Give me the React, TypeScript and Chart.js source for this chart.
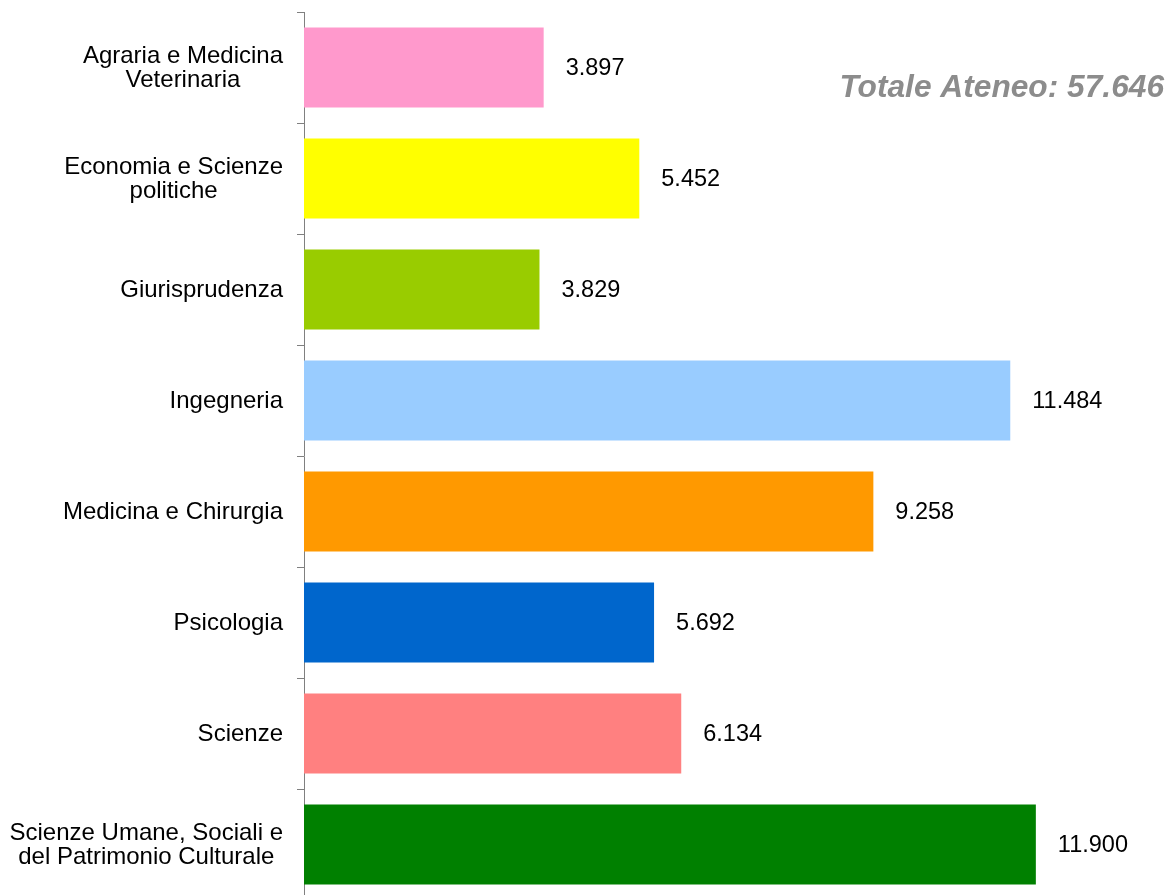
import React, { useEffect, useRef } from "react";
import { Chart, registerables } from "chart.js";

Chart.register(...registerables);

const categories: string[][] = [
  ["Agraria e Medicina", "Veterinaria"],
  ["Economia e Scienze", "politiche"],
  ["Giurisprudenza"],
  ["Ingegneria"],
  ["Medicina e Chirurgia"],
  ["Psicologia"],
  ["Scienze"],
  ["Scienze Umane, Sociali e", "del Patrimonio Culturale"],
];

const values: number[] = [3.897, 5.452, 3.829, 11.484, 9.258, 5.692, 6.134, 11.9];

const valueLabels: string[] = ["3.897", "5.452", "3.829", "11.484", "9.258", "5.692", "6.134", "11.900"];

const barColors: string[] = [
  "#FF99CC",
  "#FFFF00",
  "#99CC00",
  "#99CCFF",
  "#FF9900",
  "#0066CC",
  "#FF8080",
  "#008000",
];

const totalLabel = "Totale Ateneo: 57.646";

const FONT = "'Liberation Sans', Arial, Helvetica, sans-serif";

const valueLabelPlugin = {
  id: "valueLabels",
  afterDatasetsDraw(chart: any) {
    const ctx = chart.ctx;
    const meta = chart.getDatasetMeta(0);
    ctx.save();
    ctx.font = `23.5px ${FONT}`;
    ctx.fillStyle = "#000000";
    ctx.textAlign = "left";
    ctx.textBaseline = "middle";
    meta.data.forEach((bar: any, i: number) => {
      ctx.fillText(valueLabels[i], bar.x + 22, bar.y + 1);
    });
    ctx.restore();
  },
};

// Category labels: right edge aligned to the axis, lines centred within each block
const categoryLabelPlugin = {
  id: "categoryLabels",
  afterDraw(chart: any) {
    const ctx = chart.ctx;
    const yScale = chart.scales.y;
    const rightEdge = yScale.right - 7 - 14;
    const lineGap = 24.6;
    ctx.save();
    ctx.font = `24px ${FONT}`;
    ctx.fillStyle = "#000000";
    ctx.textAlign = "center";
    ctx.textBaseline = "middle";
    categories.forEach((lines, i) => {
      const cy = yScale.getPixelForValue(i);
      const maxW = Math.max(...lines.map((l) => ctx.measureText(l).width));
      const cx = rightEdge - maxW / 2;
      const startY = cy - ((lines.length - 1) * lineGap) / 2 + 1;
      lines.forEach((l, j) => {
        ctx.fillText(l, cx, startY + j * lineGap);
      });
    });
    ctx.restore();
  },
};

const totalPlugin = {
  id: "totalText",
  afterDraw(chart: any) {
    const ctx = chart.ctx;
    ctx.save();
    ctx.font = `italic bold 31.7px ${FONT}`;
    ctx.fillStyle = "#8C8C8C";
    ctx.textAlign = "right";
    ctx.textBaseline = "alphabetic";
    ctx.fillText(totalLabel, 1164, 97);
    ctx.restore();
  },
};

export default function App() {
  const canvasRef = useRef<HTMLCanvasElement | null>(null);

  useEffect(() => {
    document.body.style.margin = "0";
    document.body.style.overflow = "hidden";
    const canvas = canvasRef.current;
    if (!canvas) return;
    const chart = new Chart(canvas, {
      type: "bar",
      data: {
        labels: categories,
        datasets: [
          {
            data: values,
            backgroundColor: barColors,
            borderWidth: 0,
            barPercentage: 0.72,
            categoryPercentage: 1,
          },
        ],
      },
      plugins: [valueLabelPlugin, categoryLabelPlugin, totalPlugin],
      options: {
        indexAxis: "y",
        animation: false,
        responsive: false,
        maintainAspectRatio: false,
        devicePixelRatio: 1,
        layout: { padding: { top: 12, right: 4, bottom: 0, left: 0 } },
        plugins: {
          legend: { display: false },
          tooltip: { enabled: false },
          title: { display: false },
        },
        scales: {
          x: {
            display: false,
            min: 0,
            max: 14,
          },
          y: {
            afterFit(scale: any) {
              scale.width = 304;
              scale.paddingTop = 0;
              scale.paddingBottom = 0;
            },
            border: { display: true, color: "#808080", width: 1 },
            grid: {
              display: true,
              drawOnChartArea: false,
              drawTicks: true,
              tickLength: 7,
              color: "#808080",
              offset: true,
            },
            ticks: {
              display: false,
              autoSkip: false,
            },
          },
        },
      },
    } as any);
    return () => chart.destroy();
  }, []);

  return (
    <div style={{ position: "fixed", left: 0, top: 0, width: 1169, height: 900 }}>
      <canvas ref={canvasRef} width={1169} height={900} style={{ width: 1169, height: 900, display: "block" }} />
    </div>
  );
}
